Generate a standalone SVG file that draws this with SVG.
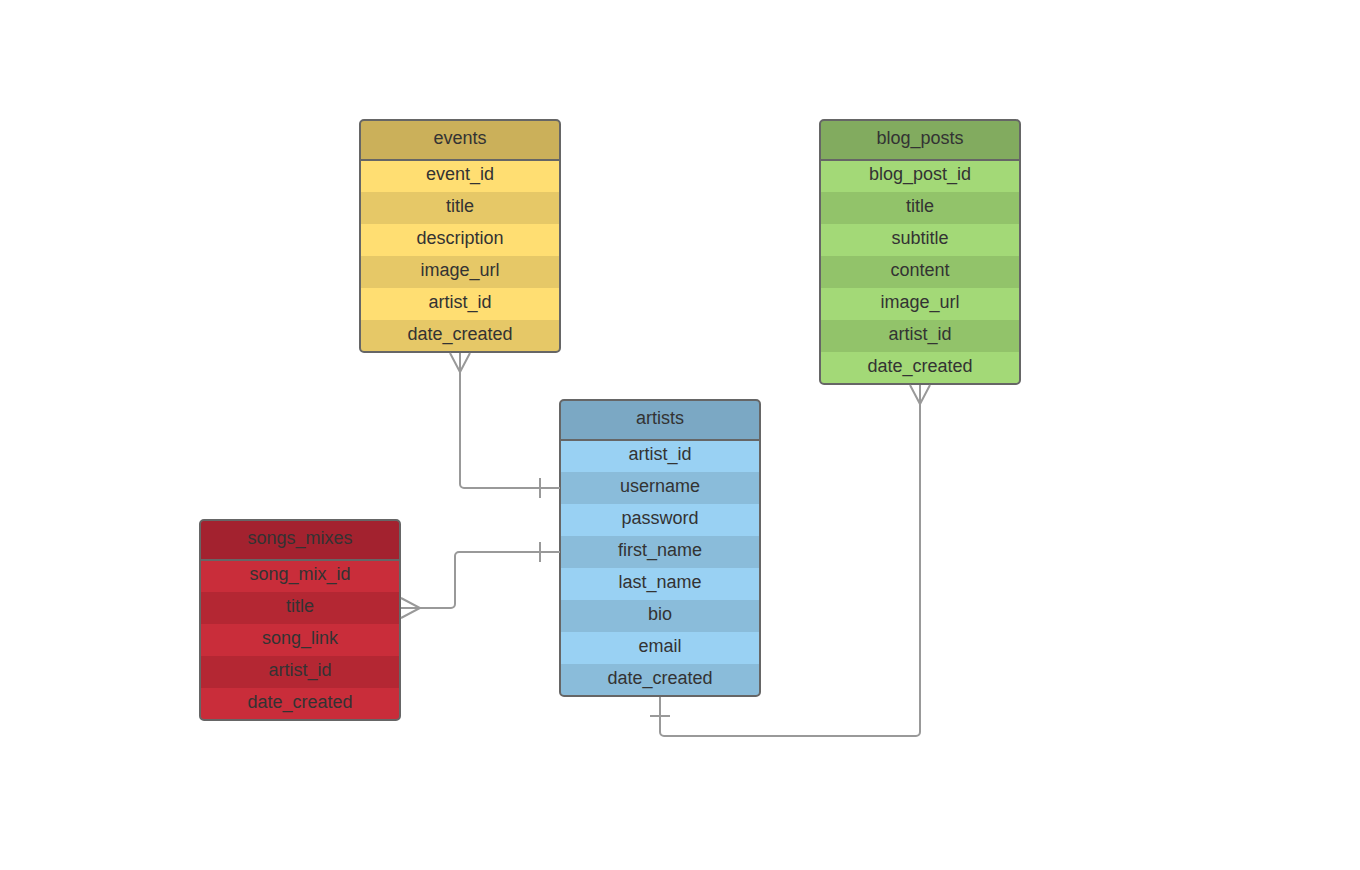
<svg xmlns="http://www.w3.org/2000/svg" width="1360" height="870" viewBox="0 0 1360 870">
<style>
text{font-family:"Liberation Sans",Arial,sans-serif;font-size:18px;fill:#333;text-anchor:middle}
.frame{fill:none;stroke:#666;stroke-width:2}
.sep{stroke:#666;stroke-width:2}
.conn path{fill:none;stroke:#999;stroke-width:2}
</style>
<rect width="1360" height="870" fill="#fff"/>
<g id="events">
<rect x="360" y="120" width="200" height="232" rx="4" fill="#CBB05A"/>
<rect x="360" y="160" width="200" height="32" fill="#FFDE72"/>
<rect x="360" y="192" width="200" height="32" fill="#E6C867"/>
<rect x="360" y="224" width="200" height="32" fill="#FFDE72"/>
<rect x="360" y="256" width="200" height="32" fill="#E6C867"/>
<rect x="360" y="288" width="200" height="32" fill="#FFDE72"/>
<path d="M360 320H560V348a4 4 0 0 1-4 4H364a4 4 0 0 1-4-4Z" fill="#E6C867"/>
<line class="sep" x1="360" y1="160" x2="560" y2="160"/>
<rect class="frame" x="360" y="120" width="200" height="232" rx="4"/>
<text x="460" y="144">events</text>
<text x="460" y="180">event_id</text>
<text x="460" y="212">title</text>
<text x="460" y="244">description</text>
<text x="460" y="276">image_url</text>
<text x="460" y="308">artist_id</text>
<text x="460" y="340">date_created</text>
</g>
<g id="blog_posts">
<rect x="820" y="120" width="200" height="264" rx="4" fill="#82AB5F"/>
<rect x="820" y="160" width="200" height="32" fill="#A3D977"/>
<rect x="820" y="192" width="200" height="32" fill="#92C36A"/>
<rect x="820" y="224" width="200" height="32" fill="#A3D977"/>
<rect x="820" y="256" width="200" height="32" fill="#92C36A"/>
<rect x="820" y="288" width="200" height="32" fill="#A3D977"/>
<rect x="820" y="320" width="200" height="32" fill="#92C36A"/>
<path d="M820 352H1020V380a4 4 0 0 1-4 4H824a4 4 0 0 1-4-4Z" fill="#A3D977"/>
<line class="sep" x1="820" y1="160" x2="1020" y2="160"/>
<rect class="frame" x="820" y="120" width="200" height="264" rx="4"/>
<text x="920" y="144">blog_posts</text>
<text x="920" y="180">blog_post_id</text>
<text x="920" y="212">title</text>
<text x="920" y="244">subtitle</text>
<text x="920" y="276">content</text>
<text x="920" y="308">image_url</text>
<text x="920" y="340">artist_id</text>
<text x="920" y="372">date_created</text>
</g>
<g id="artists">
<rect x="560" y="400" width="200" height="296" rx="4" fill="#7BA8C4"/>
<rect x="560" y="440" width="200" height="32" fill="#99D1F3"/>
<rect x="560" y="472" width="200" height="32" fill="#8ABCDA"/>
<rect x="560" y="504" width="200" height="32" fill="#99D1F3"/>
<rect x="560" y="536" width="200" height="32" fill="#8ABCDA"/>
<rect x="560" y="568" width="200" height="32" fill="#99D1F3"/>
<rect x="560" y="600" width="200" height="32" fill="#8ABCDA"/>
<rect x="560" y="632" width="200" height="32" fill="#99D1F3"/>
<path d="M560 664H760V692a4 4 0 0 1-4 4H564a4 4 0 0 1-4-4Z" fill="#8ABCDA"/>
<line class="sep" x1="560" y1="440" x2="760" y2="440"/>
<rect class="frame" x="560" y="400" width="200" height="296" rx="4"/>
<text x="660" y="424">artists</text>
<text x="660" y="460">artist_id</text>
<text x="660" y="492">username</text>
<text x="660" y="524">password</text>
<text x="660" y="556">first_name</text>
<text x="660" y="588">last_name</text>
<text x="660" y="620">bio</text>
<text x="660" y="652">email</text>
<text x="660" y="684">date_created</text>
</g>
<g id="songs_mixes">
<rect x="200" y="520" width="200" height="200" rx="4" fill="#A3222F"/>
<rect x="200" y="560" width="200" height="32" fill="#C92D3A"/>
<rect x="200" y="592" width="200" height="32" fill="#B42733"/>
<rect x="200" y="624" width="200" height="32" fill="#C92D3A"/>
<rect x="200" y="656" width="200" height="32" fill="#B42733"/>
<path d="M200 688H400V716a4 4 0 0 1-4 4H204a4 4 0 0 1-4-4Z" fill="#C92D3A"/>
<line class="sep" x1="200" y1="560" x2="400" y2="560"/>
<rect class="frame" x="200" y="520" width="200" height="200" rx="4"/>
<text x="300" y="544">songs_mixes</text>
<text x="300" y="580">song_mix_id</text>
<text x="300" y="612">title</text>
<text x="300" y="644">song_link</text>
<text x="300" y="676">artist_id</text>
<text x="300" y="708">date_created</text>
</g>
<g id="connectors" class="conn">
<path d="M460 353V484a4 4 0 0 0 4 4H560"/>
<path d="M450 353L460 372L470 353"/>
<path d="M540 478V498"/>
<path d="M401 608H451a4 4 0 0 0 4-4V556a4 4 0 0 1 4-4H560"/>
<path d="M401 598L420 608L401 618"/>
<path d="M540 542V562"/>
<path d="M920 385V732a4 4 0 0 1-4 4H664a4 4 0 0 1-4-4V697"/>
<path d="M910 385L920 404L930 385"/>
<path d="M650 716H670"/>
</g>
</svg>
